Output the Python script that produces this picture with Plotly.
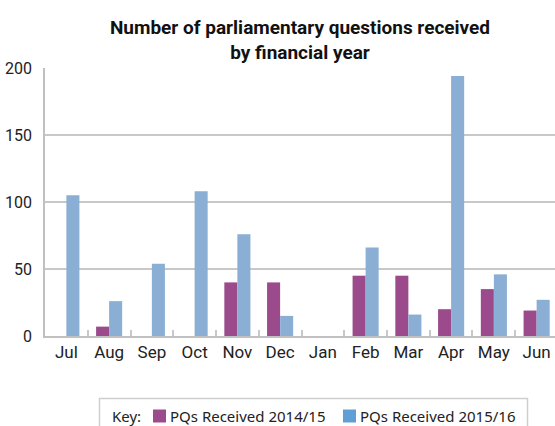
import plotly.graph_objects as go

months = ["Jul", "Aug", "Sep", "Oct", "Nov", "Dec", "Jan", "Feb", "Mar", "Apr", "May", "Jun"]
pqs_2014_15 = [0, 7, 0, 0, 40, 40, 0, 45, 45, 20, 35, 19]
pqs_2015_16 = [105, 26, 54, 108, 76, 15, 0, 66, 16, 194, 46, 27]
y_ticks = [0, 50, 100, 150, 200]
series_names = ["PQs Received 2014/15", "PQs Received 2015/16"]

purple = "#9b4a8c"
blue = "#8aaed4"
blue_key = "#5f9fd6"
font_family = "Roboto, 'DejaVu Sans', sans-serif"
key_font = "Noto Sans, sans-serif"

W, H = 555, 426
ML, MR, MT, MB = 45, 0, 68, 90
PW, PH = W - ML - MR, H - MT - MB


def px_x(px):
    return (px - ML) / PW


def px_y(py):
    return (H - MB - py) / PH


fig = go.Figure()
fig.add_trace(go.Bar(x=months, y=pqs_2014_15, name=series_names[0],
                     marker=dict(color=purple, line_width=0)))
fig.add_trace(go.Bar(x=months, y=pqs_2015_16, name=series_names[1],
                     marker=dict(color=blue, line_width=0)))

# key box below the chart
shapes = [dict(type="rect", xref="paper", yref="paper",
               x0=px_x(99.5), x1=px_x(527.5), y0=px_y(440), y1=px_y(398.5),
               line=dict(color="#cfcfcf", width=1.5), fillcolor="white", layer="above")]
annotations = [dict(text="Key:", xref="paper", yref="paper", x=px_x(110), y=px_y(416),
                    xanchor="left", yanchor="middle", showarrow=False,
                    font=dict(family=key_font, size=15, color="#222222"))]
for name, col, sx in [(series_names[0], purple, 153), (series_names[1], blue_key, 343)]:
    shapes.append(dict(type="rect", xref="paper", yref="paper",
                       x0=px_x(sx), x1=px_x(sx + 13), y0=px_y(422.5), y1=px_y(409.5),
                       line=dict(width=0), fillcolor=col, layer="above"))
    annotations.append(dict(text=name, xref="paper", yref="paper", x=px_x(sx + 15),
                            y=px_y(416), xanchor="left", yanchor="middle", showarrow=False,
                            font=dict(family=key_font, size=15, color="#222222")))

fig.update_layout(
    width=W, height=H,
    margin=dict(l=ML, r=MR, t=MT, b=MB, autoexpand=False),
    paper_bgcolor="white", plot_bgcolor="white",
    font=dict(family=font_family, size=15, color="#222222"),
    barmode="group", bargap=0.39, bargroupgap=0,
    title=dict(text="<b>Number of parliamentary questions received<br>by financial year</b>",
               x=0.5405, xanchor="center", y=0.920, yanchor="top",
               font=dict(size=19, color="#111111")),
    showlegend=False,
    shapes=shapes,
    annotations=annotations,
    xaxis=dict(range=[-0.5, 11.43], showline=True, linecolor="#c0c0c0", linewidth=2,
               ticks="inside", tickson="boundaries", ticklen=6, tickcolor="#c8c8c8",
               tickwidth=1.5, showgrid=False, tickfont=dict(size=17)),
    yaxis=dict(range=[0, 200], tickvals=y_ticks, showline=True, linecolor="#c0c0c0",
               linewidth=1.5, gridcolor="#c8c8c8", gridwidth=1.5, zeroline=False,
               ticks="", ticklabelstandoff=8, tickfont=dict(size=16)),
)

fig.write_html("out.html")
